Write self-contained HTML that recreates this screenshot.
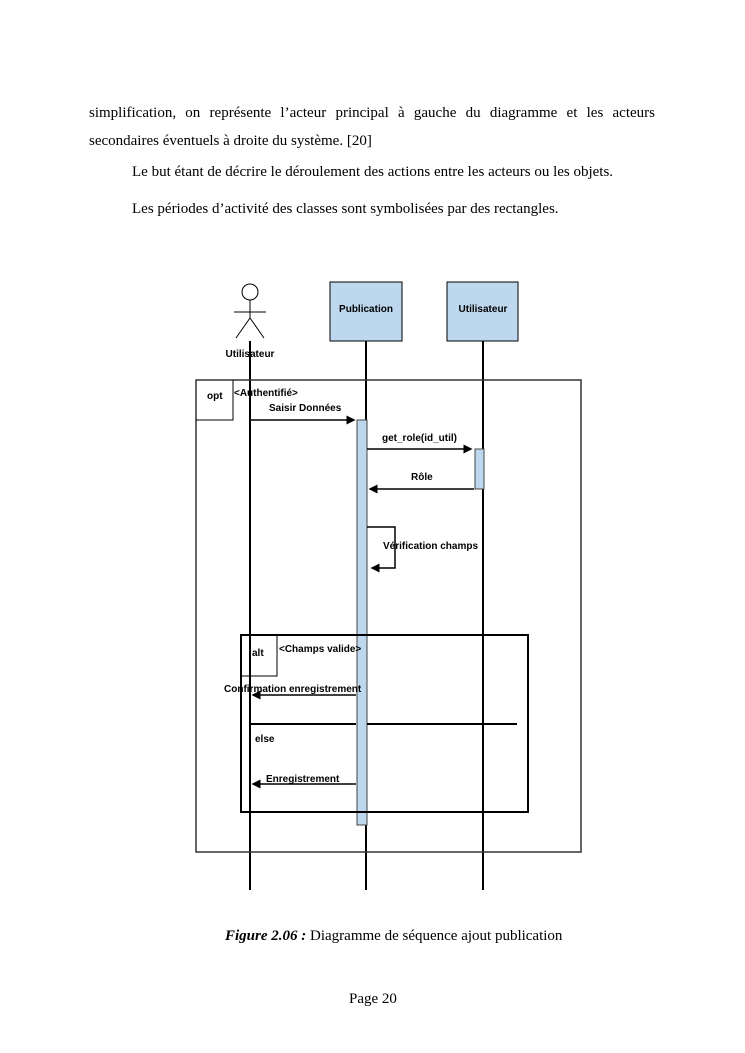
<!DOCTYPE html>
<html><head><meta charset="utf-8"><style>
body{margin:0;background:#fff;width:745px;height:1053px;position:relative;overflow:hidden}
.t{position:absolute;font-family:"Liberation Serif",serif;font-size:15px;color:#000;white-space:nowrap}
svg{position:absolute;left:0;top:0}
svg text{font-family:"Liberation Sans",sans-serif;font-size:10px;font-weight:bold}
</style></head><body>
<div class="t" style="left:89px;top:105px;width:566px;text-align:justify;text-align-last:justify">simplification, on représente l’acteur principal à gauche du diagramme et les acteurs</div>
<div class="t" style="left:89px;top:133px">secondaires éventuels à droite du système. [20]</div>
<div class="t" style="left:132px;top:164px">Le but étant de décrire le déroulement des actions entre les acteurs ou les objets.</div>
<div class="t" style="left:132px;top:201px">Les périodes d’activité des classes sont symbolisées par des rectangles.</div>
<div class="t" style="left:225px;top:928px"><b><i>Figure 2.06 :</i></b> Diagramme de séquence ajout publication</div>
<div class="t" style="left:349px;top:991px">Page 20</div>
<svg width="745" height="1053">
<defs><marker id="a" markerWidth="6" markerHeight="6" refX="5" refY="3" orient="auto"><path d="M0,0L6,3L0,6z" fill="#000"/></marker></defs>
<g stroke="#000" fill="none">
<circle cx="250" cy="292" r="8" stroke-width="1"/>
<path d="M250,300V318M234,312H266M250,318L236,338M250,318L264,338" stroke-width="1"/>
<rect x="330" y="282" width="72" height="59" fill="#bdd7ee" stroke-width="1"/>
<rect x="447" y="282" width="71" height="59" fill="#bdd7ee" stroke-width="1"/>
<path d="M250,341V890M366,341V890M483,341V890" stroke-width="2"/>
<rect x="196" y="380" width="385" height="472" stroke="#333" stroke-width="1.5"/>
<path d="M196,420H233V380" stroke-width="1"/>
<rect x="357" y="420" width="10" height="405" fill="#bdd7ee" stroke="#444" stroke-width="1"/>
<rect x="475" y="449" width="9" height="40" fill="#bdd7ee" stroke="#444" stroke-width="1"/>
<path d="M250,420H354" stroke-width="1.5" marker-end="url(#a)"/>
<path d="M367,449H471" stroke-width="1.5" marker-end="url(#a)"/>
<path d="M474,489H370" stroke-width="1.5" marker-end="url(#a)"/>
<path d="M367,527H395V568H372" stroke-width="1.5" marker-end="url(#a)"/>
<rect x="241" y="635" width="287" height="177" stroke-width="2"/>
<path d="M241,676H277V635" stroke-width="1"/>
<path d="M356,695H253" stroke-width="1.5" marker-end="url(#a)"/>
<path d="M250,724H356M367,724H517" stroke-width="2"/>
<path d="M356,784H253" stroke-width="1.5" marker-end="url(#a)"/>
</g>
<text x="366" y="312" text-anchor="middle" font-size="11">Publication</text>
<text x="483" y="312" text-anchor="middle" font-size="11">Utilisateur</text>
<text x="250" y="357" text-anchor="middle" font-size="11">Utilisateur</text>
<text x="207" y="399" font-weight="normal">opt</text>
<text x="234" y="396" font-weight="normal">&lt;Authentifié&gt;</text>
<text x="269" y="411" font-size="11">Saisir Données</text>
<text x="382" y="441" font-size="11">get_role(id_util)</text>
<text x="411" y="480" font-size="11">Rôle</text>
<text x="383" y="549" font-size="11">Vérification champs</text>
<text x="252" y="656" font-size="11">alt</text>
<text x="279" y="652" font-weight="normal">&lt;Champs valide&gt;</text>
<text x="224" y="692" font-size="11">Confirmation enregistrement</text>
<text x="255" y="742" font-size="11">else</text>
<text x="266" y="782" font-size="11">Enregistrement</text>
</svg>
</body></html>
